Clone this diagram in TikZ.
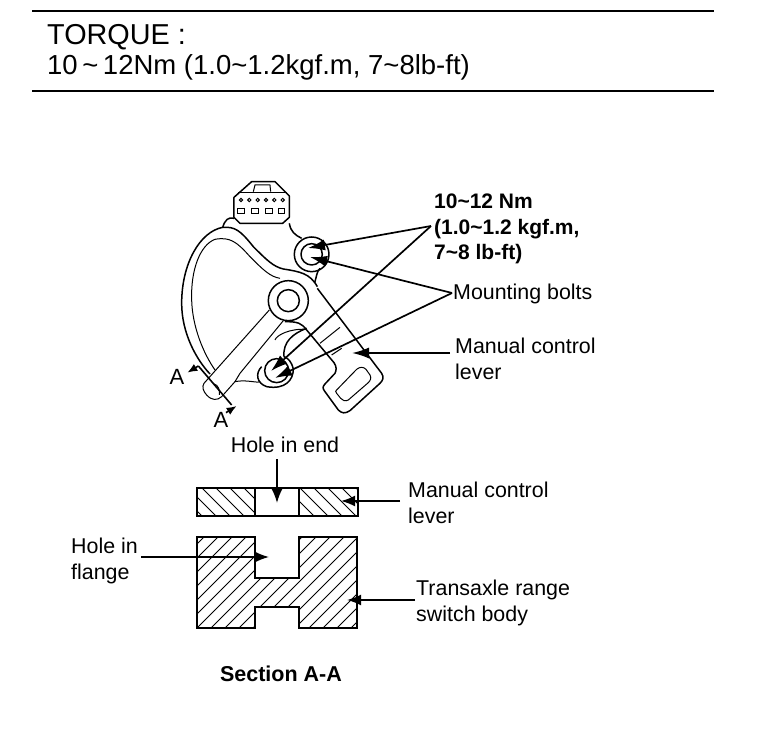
\documentclass[tikz,border=0pt]{standalone}
\usepackage{fontspec}
\setmainfont{Liberation Sans}
\usetikzlibrary{arrows.meta,patterns}
\tikzset{
 rule/.style={line width=1.3pt},
 lbl/.style={inner sep=0pt,align=left,anchor=west,font=\fontsize{21.4}{26}\selectfont},
 ptr/.style={line width=1.7pt,-{Latex[length=17pt,width=11pt]}},
 ptrs/.style={line width=1.7pt,-{Latex[length=14pt,width=11pt]}},
 part/.style={line width=1.5pt,line join=round},
 thin part/.style={line width=1pt},
 hatchline/.style={line width=0.9pt},
 sect/.style={line width=1.8pt},
}
\begin{document}
\begin{tikzpicture}[x=1pt,y=-1pt]
\useasboundingbox (0,0) rectangle (768,730);
\fill[white] (0,0) rectangle (768,730);
% header
\coordinate (r1a) at (32,11); \coordinate (r1b) at (714,11);
\coordinate (r2a) at (32,91); \coordinate (r2b) at (714,91);
\draw[rule] (r1a) -- (r1b);
\draw[rule] (r2a) -- (r2b);
\node[inner sep=0pt,anchor=base west,font=\fontsize{28.8}{30}\selectfont] (tq) at (47,45) {TORQUE :};
\node[inner sep=0pt,anchor=base west,font=\fontsize{27.5}{28}\selectfont] (tv) at (47,75) {10\,\char`~\,12Nm (1.0\char`~1.2kgf.m, 7\char`~8lb-ft)};
% switch drawing (coordinates of a 3x view)
\begin{scope}[shift={(160,170)},x=0.3333pt,y=-0.3333pt]
 % connector
 \draw[part] (222,82) -- (275,35) -- (345,35) -- (388,78) -- (388,142) -- (368,160) -- (240,160) -- (222,142) -- cycle;
 \draw[thin part] (280,65) -- (285,45) -- (330,45) -- (332,65);
 \draw[thin part] (235,67) -- (380,67);
 \foreach \x in {243,268,293,318,343,368} \draw[thin part] (\x,90) circle (5);
 \foreach \x in {243,285,327,365} \draw[thin part] (\x-10,115) rectangle (\x+10,130);
 % body
 \draw[part] (222,145) .. controls (205,140) and (195,150) .. (188,172)
   .. controls (120,185) and (65,280) .. (65,400)
   .. controls (65,490) and (110,570) .. (150,612);
 \draw[part] (188,172) .. controls (225,170) and (240,180) .. (280,230)
   .. controls (320,270) and (340,290) .. (370,297)
   .. controls (420,305) and (450,310) .. (472,350);
 \draw[thin part] (165,208) .. controls (120,225) and (92,300) .. (95,390)
   .. controls (97,470) and (130,550) .. (165,600);
 \draw[thin part] (165,208) .. controls (210,200) and (230,215) .. (270,260)
   .. controls (310,300) and (330,320) .. (360,325);
 \draw[part] (388,160) .. controls (392,185) and (405,195) .. (425,205);
 \draw[part] (480,295) .. controls (470,305) and (470,320) .. (464,338);
 % upper bolt
 \draw[part] (455,253) circle (52);
 \draw[part] (455,253) circle (32);
 % pivot boss
 \draw[part] (385,392) circle (60);
 \draw[part] (385,392) circle (33);
 % manual lever
 \draw[part] (472,355) -- (665,610) .. controls (672,622) and (670,630) .. (660,640)
   -- (570,722) .. controls (555,732) and (545,730) .. (535,720)
   -- (495,665) .. controls (487,655) and (488,650) .. (495,642)
   -- (525,610) .. controls (530,600) and (530,590) .. (522,578)
   -- (440,480) .. controls (425,460) and (415,455) .. (375,455);
 \draw[thin part] (530,660) -- (590,598) .. controls (600,590) and (610,590) .. (618,598)
   -- (630,615) .. controls (635,625) and (632,630) .. (625,638)
   -- (565,690) .. controls (555,695) and (548,692) .. (542,685)
   -- (530,670) .. controls (526,665) and (526,663) .. (530,660);
 \draw[thin part] (480,520) -- (540,472);
 \draw[thin part] (515,555) -- (545,535);
 % arm
 \draw[thin part] (328,420) -- (132,640) .. controls (125,650) and (130,665) .. (140,675)
   .. controls (155,692) and (172,692) .. (185,680) -- (225,635)
   .. controls (260,628) and (290,640) .. (300,635);
 \draw[thin part] (370,452) -- (240,610) -- (225,635);
 \draw[thin part] (162,642) .. controls (175,645) and (180,660) .. (178,675);
 \draw[thin part] (345,510) .. controls (350,495) and (390,475) .. (440,478);
 \draw[part] (372,560) .. controls (368,515) and (400,490) .. (440,475);
 % lower bolt
 \draw[part] (305,590) .. controls (285,610) and (290,640) .. (320,650)
   .. controls (375,660) and (400,630) .. (400,598)
   .. controls (395,575) and (385,565) .. (372,560);
 \draw[part] (350,602) circle (36);
 % section marks
 \draw[line width=1.6pt] (115,588) -- (215,705);
 \draw[line width=1.6pt,-{Latex[length=10pt,width=8pt]}] (115,588) -- (82,608);
 \draw[line width=1.6pt,-{Latex[length=10pt,width=8pt]}] (198,728) -- (230,708);
\end{scope}
\node[inner sep=0pt,font=\fontsize{22}{24}\selectfont] (aa) at (177,377) {A};
\node[inner sep=0pt,font=\fontsize{22}{24}\selectfont] (ab) at (221,420) {A};
% labels
\node[lbl,font=\fontsize{21}{25.5}\selectfont\bfseries] (torq) at (434,229) {10\char`~12 Nm\\(1.0\char`~1.2 kgf.m,\\7\char`~8 lb-ft)};
\node[lbl] (mb) at (453,294) {Mounting bolts};
\node[lbl] (mcl) at (455,359) {Manual control\\lever};
\node[lbl,anchor=center,align=center] (hend) at (285,445) {Hole in end};
\node[lbl] (mcl2) at (408,503) {Manual control\\lever};
\node[lbl] (hfl) at (71,561) {Hole in\\flange};
\node[lbl] (tx) at (416,603) {Transaxle range\\switch body};
\node[inner sep=0pt,font=\fontsize{21.5}{24}\selectfont\bfseries] (sec) at (281,674) {Section A-A};
% leaders
\coordinate (t1) at (308,248); \coordinate (t2) at (310,257);
\coordinate (t3) at (271,371); \coordinate (t4) at (275,378);
\coordinate (t5) at (352,353);
\coordinate (j1) at (431,226); \coordinate (j2) at (452,293); \coordinate (j3) at (450,353);
\draw[ptr] (j1) -- (t1);
\draw[ptr] (j1) -- (t3);
\draw[ptr] (j2) -- (t2);
\draw[ptr] (j2) -- (t4);
\draw[ptr] (j3) -- (t5);
% section
\begin{scope}
 \clip (197,488) rectangle (255,516) (299,488) rectangle (358,516);
 \foreach \k in {0,1,...,16} \draw[hatchline] (160+14*\k,488) -- ++(34,34);
\end{scope}
\draw[sect] (197,488) rectangle (358,516);
\draw[sect] (255,488) -- (255,516) (299,488) -- (299,516);
\begin{scope}
 \clip (197,537) -- (255,537) -- (255,578) -- (299,578) -- (299,537) -- (357,537) -- (357,628) -- (299,628) -- (299,607) -- (255,607) -- (255,628) -- (197,628) -- cycle;
 \foreach \k in {0,1,...,22} \draw[hatchline] (197+14*\k,530) -- ++(-105,105);
\end{scope}
\draw[sect] (197,537) -- (255,537) -- (255,578) -- (299,578) -- (299,537) -- (357,537) -- (357,628) -- (299,628) -- (299,607) -- (255,607) -- (255,628) -- (197,628) -- cycle;
\coordinate (h1) at (277,459); \coordinate (h2) at (277,503);
\coordinate (m1) at (400,501); \coordinate (m2) at (341,501);
\coordinate (f1) at (141,557); \coordinate (f2) at (269,557);
\coordinate (b1) at (415,600); \coordinate (b2) at (347,600);
\draw[ptrs] (h1) -- (h2);
\draw[ptrs] (m1) -- (m2);
\draw[ptrs] (f1) -- (f2);
\draw[ptrs] (b1) -- (b2);
\end{tikzpicture}
\end{document}
